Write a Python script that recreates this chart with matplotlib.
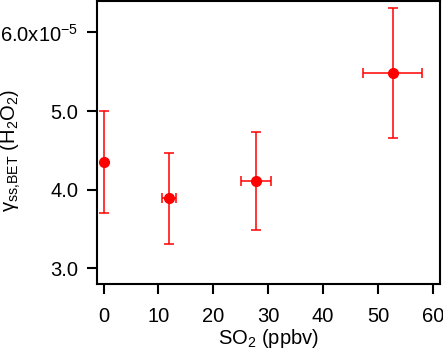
import matplotlib
matplotlib.use("Agg")
import matplotlib.pyplot as plt
from matplotlib.ticker import FuncFormatter

plt.rcParams.update({
    "font.family": ["Liberation Sans", "DejaVu Sans"],
    "font.size": 14.5,
    "mathtext.default": "regular",
})

# SO2 mixing ratio (ppbv) and steady-state uptake coefficient
so2 = [0.0, 11.9, 27.7, 52.7]
so2_err = [0.0, 1.25, 2.75, 5.35]
gamma = [4.35e-5, 3.89e-5, 4.11e-5, 5.485e-5]
gamma_err = [0.65e-5, 0.58e-5, 0.62e-5, 0.825e-5]

fig = plt.figure(figsize=(4.43, 3.52), dpi=100)
ax = fig.add_axes([97 / 443, 68 / 352, 343 / 443, 283 / 352])

ax.errorbar(so2, gamma, xerr=so2_err, yerr=gamma_err, fmt="o", color="red",
            ms=7, elinewidth=1.1, capsize=3.3, capthick=1.1)

ax.set_xlim(-1.2, 61.3)
ax.set_ylim(2.80e-5, 6.40e-5)
ax.set_xticks([0, 10, 20, 30, 40, 50, 60])
ax.set_yticks([3e-5, 4e-5, 5e-5, 6e-5])


def fmt_y(v, pos):
    s = f"{v * 1e5:.1f}"
    if abs(v - 6e-5) < 1e-9:
        return s + "x10$^{-5}$"
    return s


ax.yaxis.set_major_formatter(FuncFormatter(fmt_y))

for sp in ax.spines.values():
    sp.set_linewidth(1.5)
ax.tick_params(direction="out", length=7.5, width=1.5)
ax.tick_params(axis="x", pad=9)
ax.tick_params(axis="y", pad=6)

ax.set_xlabel("SO$_2$ (ppbv)", labelpad=1)
ax.set_ylabel("γ$_{ss{,}BET}$ (H$_2$O$_2$)")
ax.yaxis.set_label_coords(-0.215, 0.473)

fig.savefig("out.png", dpi=100)
